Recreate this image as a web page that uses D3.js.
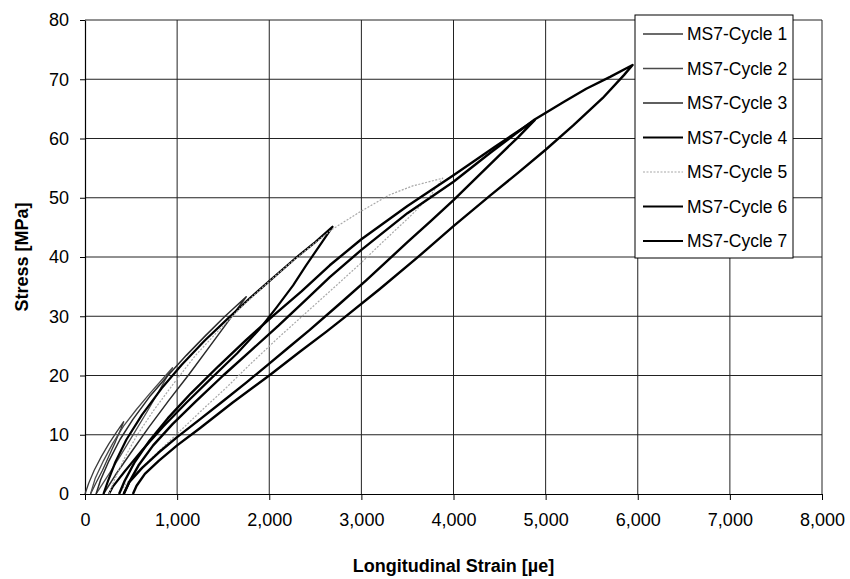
<!DOCTYPE html>
<html>
<head>
<meta charset="utf-8">
<script src="https://cdn.jsdelivr.net/npm/d3@7"></script>
<style>
  body { margin: 0; background: #fff; }
  text { font-family: "Liberation Sans", Arial, sans-serif; }
  .grid line { stroke: #222; stroke-width: 1; }
  .axis path, .axis line { stroke: #000; }
</style>
</head>
<body>
<div id="chart"></div>
<script>
// tick values
var xTicks = [0, 1000, 2000, 3000, 4000, 5000, 6000, 7000, 8000];
var yTicks = [0, 10, 20, 30, 40, 50, 60, 70, 80];

var seriesNames = ["MS7-Cycle 1", "MS7-Cycle 2", "MS7-Cycle 3", "MS7-Cycle 4",
                   "MS7-Cycle 5", "MS7-Cycle 6", "MS7-Cycle 7"];

// [strain (µe), stress (MPa)], loading then unloading
var cycle1 = [[0,0],[40,1.8],[100,4],[180,6.4],[260,8.5],[340,10.4],[420,12.2],
  [390,11],[330,8.8],[260,6.4],[190,4],[120,1.9],[60,0]];

var cycle2 = [[60,0],[110,2.6],[200,5.6],[300,8.5],[420,11.5],[560,14.3],[700,16.9],[830,19.2],[950,21.3],
  [890,19.8],[790,17],[670,13.8],[530,10.2],[390,6.6],[270,3.6],[170,1.2],[120,0]];

var cycle3 = [[120,0],[170,2.4],[260,5.6],[380,9.2],[520,12.6],[700,16.4],[900,20],[1100,23.4],[1300,26.6],
  [1520,30],[1750,33.3],
  [1660,31.4],[1510,28.2],[1330,24.4],[1130,20.2],[910,15.8],[690,11.2],[490,6.8],[330,3.2],[200,0]];

var cycle4 = [[200,0],[250,2.2],[330,5.4],[450,9.2],[620,13.4],[830,17.8],[1050,21.8],[1300,25.9],
  [1550,29.6],[1800,33.2],[2050,36.6],[2300,40],[2500,42.5],[2686,45.1],
  [2560,42.2],[2400,38.6],[2259,35.2],[2080,31.5],[1898,27.9],[1650,23.7],[1356,19.3],[1100,15.4],
  [850,11.4],[620,7.4],[430,3.8],[300,1.2],[260,0]];

var cycle5 = [[260,0],[320,2.4],[420,5.8],[560,9.8],[740,14],[950,18.4],[1200,23.4],[1450,27.6],
  [1700,31.6],[1950,35.2],[2200,38.6],[2450,41.8],[2686,44.7],[2983,47.6],[3308,50.5],[3557,52],[3883,53.3],
  [3742,50.2],[3525,46.8],[3250,42.8],[2983,38.8],[2700,34.8],[2400,30.6],[2100,26.4],[1800,22],
  [1537,18],[1300,14.6],[1050,10.9],[800,7.2],[600,4.2],[450,1.8],[370,0]];

var cycle6 = [[370,0],[430,2.2],[540,5.4],[700,9],[900,12.8],[1150,17],[1450,21.6],[1750,26],[2050,30.2],
  [2350,34.2],[2657,38.6],[3000,43],[3500,48.6],[4000,53.8],[4450,58.6],[4881,63.1],
  [4700,60.2],[4500,57.2],[4250,53.4],[4000,49.6],[3750,46],[3500,42.5],[3055,36.1],[2750,31.9],
  [2440,27.7],[2200,24.6],[2000,22],[1750,18.8],[1500,15.7],[1247,12.6],[1000,9.6],[800,7],
  [620,4.4],[480,2],[420,0]];

var cycle7 = [[420,0],[480,2],[580,4.8],[740,8.2],[950,11.8],[1200,15.6],[1500,20],[1800,24.2],[2100,28.4],
  [2400,32.8],[2657,36.6],[3000,41.2],[3500,47.4],[4000,52.7],[4400,57.6],[4681,60.9],[4881,63.2],
  [5200,66.2],[5441,68.4],[5700,70.4],[5944,72.4],
  [5850,70.7],[5618,66.8],[5300,62.2],[5000,58.1],[4700,54.2],[4400,50.4],[4000,45.2],[3600,39.8],
  [3200,34.6],[2800,29.6],[2621,27.4],[2332,24],[2000,20],[1600,15.4],[1247,11.1],[1000,8.2],
  [800,5.6],[650,3.4],[560,1.4],[520,0]];

var cycles = [cycle1, cycle2, cycle3, cycle4, cycle5, cycle6, cycle7];

// line look per cycle
var styles = [
  {color: "#3a3a3a", width: 1.3, dash: null},
  {color: "#4a4a4a", width: 1.3, dash: null},
  {color: "#2a2a2a", width: 1.5, dash: null},
  {color: "#000", width: 2.2, dash: null},
  {color: "#a8a8a8", width: 1.2, dash: "2,1.5"},
  {color: "#000", width: 2.4, dash: null},
  {color: "#000", width: 2.4, dash: null}
];

var margin = {top: 20, right: 28, bottom: 85, left: 85},
    width = 850 - margin.left - margin.right,
    height = 579 - margin.top - margin.bottom;

var svg = d3.select("#chart").append("svg")
    .attr("width", 850)
    .attr("height", 579);

var g = svg.append("g")
    .attr("transform", "translate(" + margin.left + "," + margin.top + ")");

var x = d3.scaleLinear().domain([0, 8000]).range([0, width]);
var y = d3.scaleLinear().domain([0, 80]).range([height, 0]);

// grid
g.append("g")
    .attr("class", "grid")
    .selectAll("line.v")
    .data(xTicks.slice(1))
  .enter().append("line")
    .attr("x1", function(d) { return x(d); })
    .attr("x2", function(d) { return x(d); })
    .attr("y1", 0)
    .attr("y2", height);

g.append("g")
    .attr("class", "grid")
    .selectAll("line.h")
    .data(yTicks.slice(1))
  .enter().append("line")
    .attr("x1", 0)
    .attr("x2", width)
    .attr("y1", function(d) { return y(d); })
    .attr("y2", function(d) { return y(d); });

// axes
var xAxis = g.append("g")
    .attr("class", "axis")
    .attr("transform", "translate(0," + height + ")")
    .call(d3.axisBottom(x).tickValues(xTicks).tickFormat(d3.format(","))
      .tickSize(6).tickPadding(13).tickSizeOuter(0));

var yAxis = g.append("g")
    .attr("class", "axis")
    .call(d3.axisLeft(y).tickValues(yTicks).tickSize(5).tickPadding(11).tickSizeOuter(0));

xAxis.selectAll("text")
    .attr("font-size", 18)
    .attr("font-family", "Liberation Sans, Arial, sans-serif")
    .attr("fill", "#000");
yAxis.selectAll("text")
    .attr("font-size", 18)
    .attr("font-family", "Liberation Sans, Arial, sans-serif")
    .attr("fill", "#000");
xAxis.select(".domain").attr("stroke-width", 1.2);
yAxis.select(".domain").attr("stroke-width", 1.2);

// cycle lines
var line = d3.line()
    .x(function(d) { return x(d[0]); })
    .y(function(d) { return y(d[1]); });

g.selectAll(".cycle")
    .data(cycles)
  .enter().append("path")
    .attr("class", "cycle")
    .attr("d", line)
    .attr("fill", "none")
    .attr("stroke", function(d, i) { return styles[i].color; })
    .attr("stroke-width", function(d, i) { return styles[i].width; })
    .attr("stroke-dasharray", function(d, i) { return styles[i].dash; })
    .attr("stroke-linejoin", "round");

// axis titles
svg.append("text")
    .attr("x", margin.left + width / 2)
    .attr("y", 572)
    .attr("text-anchor", "middle")
    .attr("font-size", 18)
    .attr("font-weight", "bold")
    .text("Longitudinal Strain [µe]");

svg.append("text")
    .attr("transform", "translate(28," + (margin.top + height / 2) + ") rotate(-90)")
    .attr("text-anchor", "middle")
    .attr("font-size", 18)
    .attr("font-weight", "bold")
    .text("Stress [MPa]");

// legend
var legend = svg.append("g").attr("transform", "translate(635,15)");

legend.append("rect")
    .attr("width", 158)
    .attr("height", 243)
    .attr("fill", "#fff")
    .attr("stroke", "#000")
    .attr("stroke-width", 1);

var item = legend.selectAll(".item")
    .data(seriesNames)
  .enter().append("g")
    .attr("class", "item")
    .attr("transform", function(d, i) { return "translate(0," + (19 + i * 34.5) + ")"; });

item.append("line")
    .attr("x1", 8)
    .attr("x2", 48)
    .attr("stroke", function(d, i) { return styles[i].color; })
    .attr("stroke-width", function(d, i) { return Math.min(styles[i].width, 2); })
    .attr("stroke-dasharray", function(d, i) { return styles[i].dash; });

item.append("text")
    .attr("x", 52)
    .attr("dy", "0.35em")
    .attr("font-size", 17.5)
    .text(function(d) { return d; });
</script>
</body>
</html>
